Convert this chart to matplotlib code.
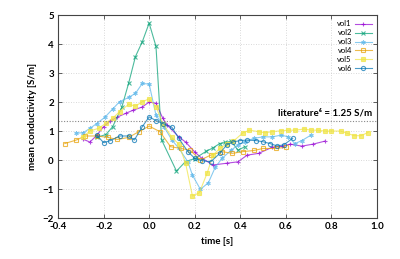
import matplotlib
matplotlib.use('Agg')
import matplotlib.pyplot as plt

plt.rcParams['font.family'] = ['Lato', 'DejaVu Sans']

# data (time [s], mean conductivity [S/m])
vol1_t = [-0.29, -0.26, -0.23, -0.20, -0.17, -0.14, -0.10, -0.07, -0.03, 0.00, 0.03, 0.06,
          0.08, 0.13, 0.16, 0.20, 0.23, 0.28, 0.34, 0.39, 0.43, 0.48, 0.54, 0.585, 0.62,
          0.67, 0.72, 0.77]
vol1_y = [0.72, 0.62, 0.85, 1.15, 1.35, 1.48, 1.62, 1.72, 1.83, 2.00, 1.96, 1.44,
          1.20, 0.80, 0.62, 0.28, 0.07, -0.17, -0.11, -0.06, 0.17, 0.23, 0.44, 0.48, 0.55,
          0.48, 0.55, 0.65]

vol2_t = [-0.23, -0.19, -0.16, -0.12, -0.09, -0.06, -0.03, 0.00, 0.03, 0.055, 0.12,
          0.16, 0.20, 0.25, 0.28, 0.31, 0.335, 0.36, 0.39, 0.42]
vol2_y = [0.78, 0.88, 1.15, 1.82, 2.65, 3.57, 4.08, 4.72, 3.92, 0.69, -0.38,
          -0.05, 0.05, 0.30, 0.42, 0.57, 0.61, 0.65, 0.34, 0.46]

vol3_t = [-0.32, -0.29, -0.26, -0.23, -0.195, -0.16, -0.13, -0.09, -0.06, -0.03, 0.00,
          0.03, 0.065, 0.10, 0.13, 0.17, 0.19, 0.225, 0.26, 0.29, 0.32, 0.36, 0.39, 0.42,
          0.46, 0.50, 0.54, 0.58, 0.61, 0.64, 0.67, 0.71]
vol3_y = [0.93, 0.94, 1.09, 1.26, 1.47, 1.76, 2.01, 2.16, 2.30, 2.64, 2.62,
          1.55, 1.15, 0.69, 0.41, -0.06, -0.52, -1.01, -0.78, -0.25, 0.06, 0.34, 0.52, 0.63,
          0.75, 0.80, 0.80, 0.86, 0.80, 0.57, 0.67, 0.86]

vol4_t = [-0.37, -0.32, -0.28, -0.23, -0.18, -0.14, -0.09, -0.045, 0.00, 0.047, 0.094,
          0.14, 0.18, 0.225, 0.27, 0.32, 0.365, 0.41, 0.46, 0.50, 0.555, 0.60]
vol4_y = [0.57, 0.69, 0.83, 0.83, 0.78, 0.71, 0.78, 0.98, 1.17, 0.98, 0.46,
          0.40, 0.34, 0.00, 0.17, 0.29, 0.23, 0.29, 0.33, 0.40, 0.40, 0.44]

vol5_t = [-0.29, -0.26, -0.22, -0.19, -0.16, -0.13, -0.09, -0.06, -0.03, 0.00, 0.03,
          0.06, 0.10, 0.13, 0.16, 0.19, 0.22, 0.255, 0.28, 0.31, 0.34, 0.37, 0.41, 0.44,
          0.48, 0.51, 0.54, 0.58, 0.61, 0.64, 0.68, 0.71, 0.74, 0.77, 0.80, 0.84, 0.87,
          0.90, 0.93, 0.96]
vol5_y = [0.80, 1.00, 1.10, 1.27, 1.44, 1.67, 1.92, 1.86, 2.01, 2.11, 1.84,
          1.26, 0.78, 0.55, -0.11, -1.24, -1.13, -0.44, 0.17, 0.40, 0.55, 0.65, 0.93, 1.03,
          0.98, 0.94, 0.98, 1.01, 1.03, 1.03, 1.07, 1.03, 1.03, 1.00, 1.00, 1.00, 0.92,
          0.84, 0.84, 0.95]

vol6_t = [-0.23, -0.20, -0.17, -0.13, -0.09, -0.065, -0.03, 0.00, 0.03, 0.06, 0.10,
          0.13, 0.17, 0.20, 0.23, 0.27, 0.31, 0.34, 0.37, 0.40, 0.43, 0.47, 0.50, 0.53,
          0.56, 0.59, 0.63]
vol6_y = [0.86, 0.60, 0.67, 0.83, 0.83, 0.69, 1.15, 1.49, 1.36, 1.26, 1.13,
          0.75, 0.29, 0.06, -0.02, -0.06, 0.23, 0.52, 0.63, 0.67, 0.69, 0.67, 0.63, 0.57,
          0.49, 0.52, 0.75]

literature = 1.35

series = [
    ('vol1', vol1_t, vol1_y, '#9400d3', '+', 'full'),
    ('vol2', vol2_t, vol2_y, '#009e73', 'x', 'full'),
    ('vol3', vol3_t, vol3_y, '#56b4e9', (6, 2, 0), 'full'),
    ('vol4', vol4_t, vol4_y, '#e69f00', 's', 'none'),
    ('vol5', vol5_t, vol5_y, '#f0e442', 's', 'full'),
    ('vol6', vol6_t, vol6_y, '#0072b2', 'o', 'none'),
]

fig = plt.figure(figsize=(4, 2.59), dpi=100)
ax = fig.add_axes([0.145, 0.158, 0.7975, 0.784])

for name, t, y, c, m, fs in series:
    ax.plot(t, y, color=c, marker=m, fillstyle=fs, markersize=3, markeredgewidth=0.8,
            linewidth=0.8, alpha=0.7, label=name)

ax.axhline(literature, color='#888888', linestyle=(0, (1, 1.5)), linewidth=0.8)
ax.text(0.98, literature + 0.12, 'literature\u2076 = 1.25 S/m', ha='right', va='bottom',
        fontsize=7, fontweight='bold')

ax.set_xlim(-0.4, 1.0)
ax.set_ylim(-2, 5)
ax.set_xticks([-0.4, -0.2, 0.0, 0.2, 0.4, 0.6, 0.8, 1.0])
ax.set_xticklabels(['-0.4', '-0.2', '0.0', '0.2', '0.4', '0.6', '0.8', '1.0'])
ax.set_yticks(range(-2, 6))
ax.grid(True, color='#cccccc', linestyle=(0, (1, 2)), linewidth=0.6)
ax.tick_params(direction='in', top=True, right=True, length=3, width=0.6,
               labelsize=7, pad=3, color='#444444')
for lab in ax.get_xticklabels() + ax.get_yticklabels():
    lab.set_fontweight('bold')
for s in ax.spines.values():
    s.set_color('#444444')
    s.set_linewidth(0.8)

ax.set_xlabel('time [s]', fontsize=7, fontweight='bold', labelpad=4)
ax.set_ylabel('mean conductivity [S/m]', fontsize=7, fontweight='bold', labelpad=4)

ax.legend(loc='upper right', frameon=False, markerfirst=False, fontsize=5.5,
          labelspacing=0.25, handlelength=2.2, handletextpad=0.4,
          borderaxespad=0.3)

fig.savefig('out.png', dpi=100)
